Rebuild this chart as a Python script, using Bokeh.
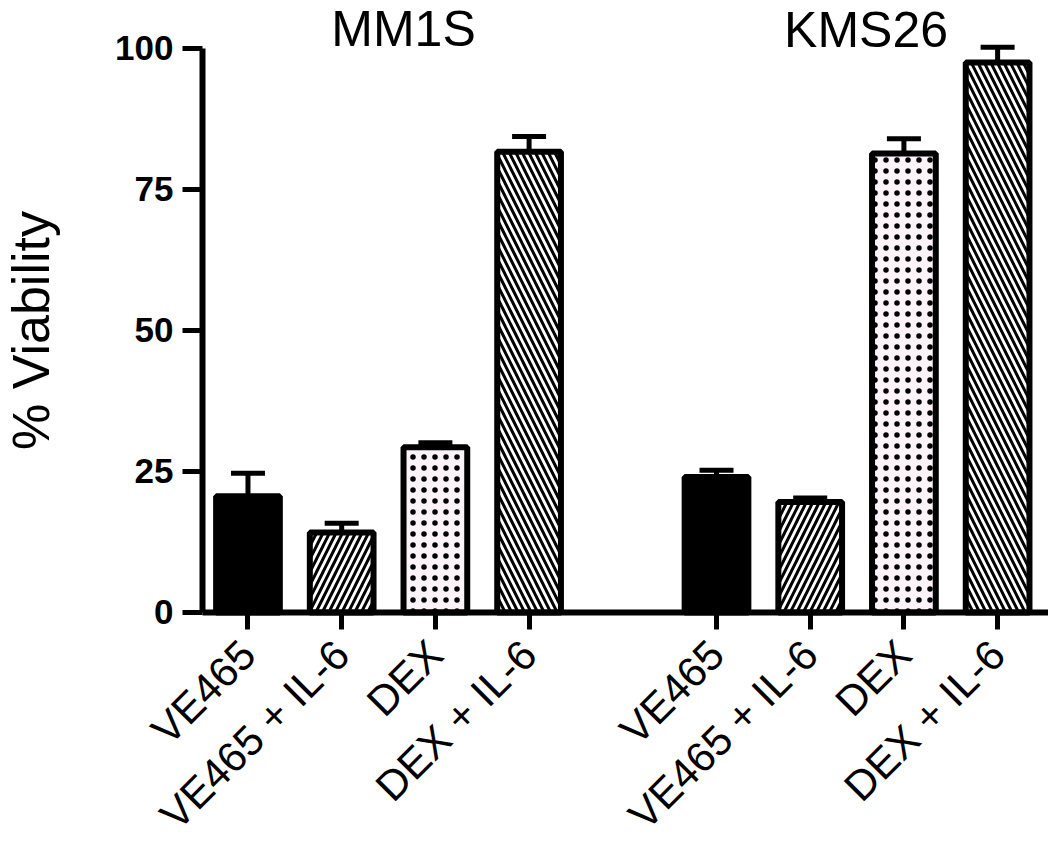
import math
from bokeh.plotting import figure
from bokeh.models import (ColumnDataSource, FixedTicker, Label, Whisker, TeeHead,
                          LinearAxis, Range1d)
from bokeh.embed import file_html
from bokeh.resources import INLINE

# ---- data ----
groups = ["MM1S", "KMS26"]
treatments = ["VE465", "VE465 + IL-6", "DEX", "DEX + IL-6"]
mm1s_mean = [20.6, 14.2, 29.3, 81.7]
mm1s_err = [4.1, 1.6, 0.8, 2.7]
kms26_mean = [24.0, 19.6, 81.4, 97.5]
kms26_err = [1.2, 0.7, 2.6, 2.7]
y_ticks = [0, 25, 50, 75, 100]
y_label = "% Viability"

# ---- styles ----
fill_colors = ["black", "white", "#fcf3f9", "white"]
hatches = ["blank", "right_diagonal_line", "dot", "left_diagonal_line"]
hatch_scales = [13, 13, 11, 13]
FONT = "Liberation Sans"

n = len(treatments)
xs, tops, lows, ups, fills, hp, hs = [], [], [], [], [], [], []
for gi, (means, errs) in enumerate([(mm1s_mean, mm1s_err), (kms26_mean, kms26_err)]):
    for ti in range(n):
        xs.append(gi * (n + 1) + ti)
        tops.append(means[ti])
        lows.append(means[ti])
        ups.append(means[ti] + errs[ti])
        fills.append(fill_colors[ti])
        hp.append(hatches[ti])
        hs.append(hatch_scales[ti])

src = ColumnDataSource(dict(x=xs, top=tops, lower=lows, upper=ups, fill=fills,
                            hatch=hp, hscale=hs))

# layout: frame covers whole canvas, axes drawn at fixed locations
X0, X1 = -2.641, 8.543
Y0, Y1 = -40.43, 108.51
YAXIS_AT = -0.4856

p = figure(width=1048, height=840, output_backend="svg", toolbar_location=None,
           x_range=Range1d(X0, X1), y_range=Range1d(Y0, Y1),
           x_axis_type=None, y_axis_type=None,
           min_border_left=0, min_border_right=0, min_border_top=0, min_border_bottom=0)
p.outline_line_color = None
p.xgrid.visible = False
p.ygrid.visible = False
p.background_fill_color = "white"
p.border_fill_color = "white"

# error bars (upper only)
wh = Whisker(source=src, base="x", lower="lower", upper="upper",
             line_color="black", line_width=5,
             upper_head=TeeHead(size=34, line_width=5, line_color="black"),
             lower_head=None, level="glyph")
p.add_layout(wh)

p.vbar(x="x", top="top", bottom=0, width=0.68, source=src,
       fill_color="fill", line_color="black", line_width=6,
       hatch_pattern="hatch", hatch_color="black", hatch_scale="hscale", hatch_weight=3)

# y axis
yax = LinearAxis(fixed_location=YAXIS_AT, ticker=FixedTicker(ticks=y_ticks), bounds=(0, 100))
yax.axis_line_width = 6
yax.major_tick_line_width = 5
yax.major_tick_out = 20
yax.major_tick_in = 0
yax.minor_tick_line_color = None
yax.major_label_text_font = FONT
yax.major_label_text_font_style = "bold"
yax.major_label_text_font_size = "35px"
yax.major_label_text_color = "black"
yax.major_label_standoff = 9
yax.axis_label = y_label
yax.axis_label_text_font = FONT
yax.axis_label_text_font_style = "normal"
yax.axis_label_text_font_size = "52px"
yax.axis_label_text_color = "black"
yax.axis_label_standoff = 52
p.add_layout(yax, "left")

# x axis with category labels
xax = LinearAxis(fixed_location=0, ticker=FixedTicker(ticks=xs), bounds=(YAXIS_AT, X1))
xax.major_label_overrides = {x: treatments[i % n] for i, x in enumerate(xs)}
xax.major_label_orientation = math.pi / 4
xax.axis_line_width = 6
xax.major_tick_line_width = 5
xax.major_tick_out = 17
xax.major_tick_in = 0
xax.minor_tick_line_color = None
xax.major_label_text_font = FONT
xax.major_label_text_font_size = "42px"
xax.major_label_text_color = "black"
xax.major_label_standoff = 18
p.add_layout(xax, "below")

# group titles
for gi, g in enumerate(groups):
    cx = gi * (n + 1) + (n - 1) / 2
    p.add_layout(Label(x=cx, y=[103.4, 103.2][gi], text=g, text_align="center",
                       text_baseline="alphabetic", x_offset=[15, 9][gi],
                       text_font=FONT, text_font_size="50px", text_color="black"))

open("out.html", "w").write(file_html(p, INLINE))
